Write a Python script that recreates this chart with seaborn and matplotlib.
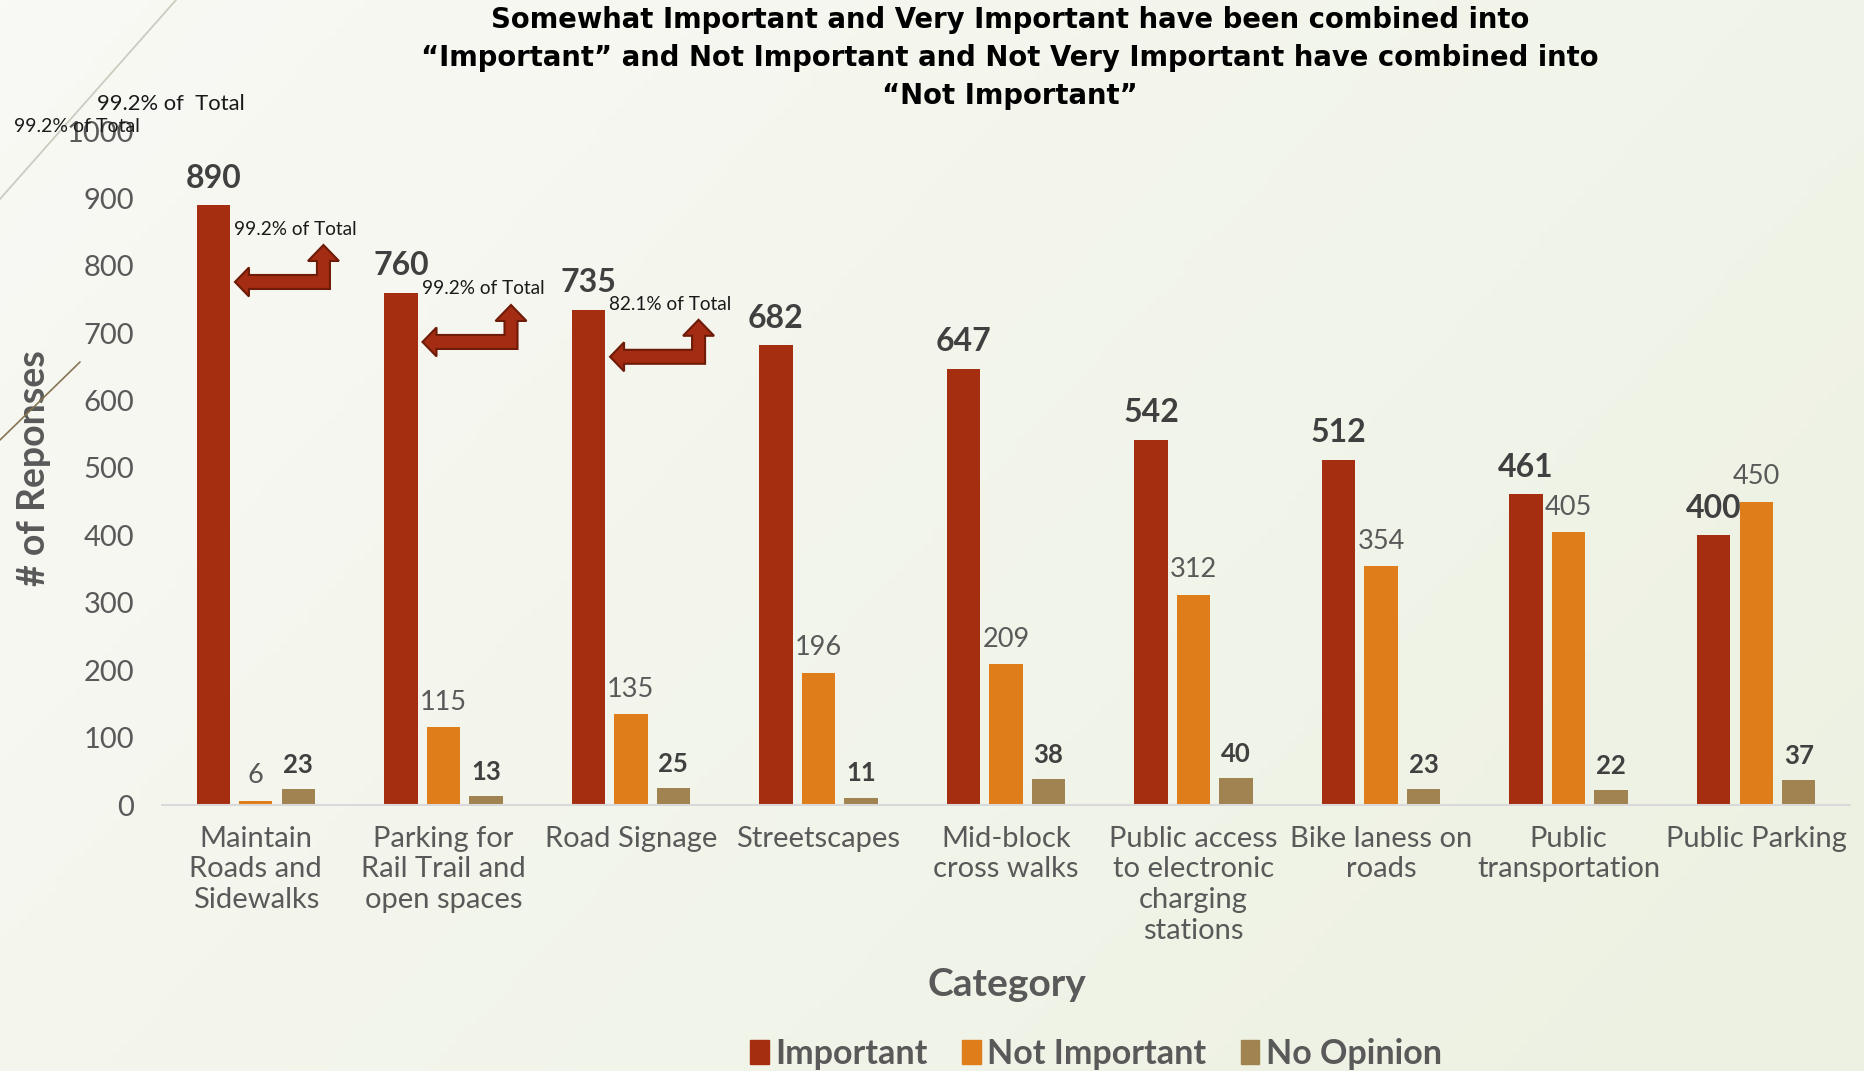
import numpy as np
import pandas as pd
import matplotlib
matplotlib.use("Agg")
import matplotlib.pyplot as plt
import matplotlib.transforms as mtransforms
from matplotlib.patches import Polygon
from matplotlib.lines import Line2D
import seaborn as sns

# values
CATEGORIES = [
    "Maintain\nRoads and\nSidewalks",
    "Parking for\nRail Trail and\nopen spaces",
    "Road Signage",
    "Streetscapes",
    "Mid-block\ncross walks",
    "Public access\nto electronic\ncharging\nstations",
    "Bike laness on\nroads",
    "Public\ntransportation",
    "Public Parking",
]
IMPORTANT = [890, 760, 735, 682, 647, 542, 512, 461, 400]
NOT_IMPORTANT = [6, 115, 135, 196, 209, 312, 354, 405, 450]
NO_OPINION = [23, 13, 25, 11, 38, 40, 23, 22, 37]
SERIES = ["Important", "Not Important", "No Opinion"]
PCT_NOTES = ["99.2% of Total", "99.2% of Total", "82.1% of Total"]

TITLE = ("Somewhat Important and Very Important have been combined into\n"
         "\u201cImportant\u201d and Not Important and Not Very Important have combined into\n"
         "\u201cNot Important\u201d")

COLORS = {"Important": "#A52D10", "Not Important": "#DE7D1A", "No Opinion": "#A08350"}
GRAY = "#595959"
DARK = "#404040"

df = pd.DataFrame({"Category": CATEGORIES, "Important": IMPORTANT,
                   "Not Important": NOT_IMPORTANT, "No Opinion": NO_OPINION})
long_df = df.melt(id_vars="Category", var_name="Response", value_name="Responses")

sns.set_style("white")
plt.rcParams["font.family"] = ["Lato", "DejaVu Sans"]

W, H = 1865, 1071
fig = plt.figure(figsize=(W / 100, H / 100), dpi=100)

# soft slide background gradient
bg = fig.add_axes([0, 0, 1, 1], zorder=-10)
gx, gy = np.meshgrid(np.linspace(0, 1, 200), np.linspace(0, 1, 120))
t = np.clip(0.65 * gx + 0.35 * gy, 0, 1)
c0 = np.array([249, 249, 245]) / 255
c1 = np.array([236, 241, 225]) / 255
img = c0[None, None, :] * (1 - t[..., None]) + c1[None, None, :] * t[..., None]
bg.imshow(img, aspect="auto", extent=[0, 1, 0, 1], origin="upper")
bg.axis("off")

ax = fig.add_axes([162 / W, 266 / H, 1688 / W, 674 / H])
ax.set_facecolor("none")

sns.barplot(data=long_df, x="Category", y="Responses", hue="Response",
            hue_order=SERIES, palette=COLORS, width=0.68, gap=0.215,
            saturation=1, errorbar=None, linewidth=0, legend=False, ax=ax)

ax.set_ylim(0, 1000)
ax.set_xlim(-0.5, len(CATEGORIES) - 0.5)
ax.set_yticks(np.arange(0, 1001, 100))
ax.tick_params(axis="y", length=0, pad=20, labelsize=21, labelcolor=GRAY)
ax.tick_params(axis="x", length=0, pad=15, labelsize=21, labelcolor=GRAY)
for lab in ax.get_xticklabels():
    lab.set_linespacing(1.22)
for side in ["top", "right", "left"]:
    ax.spines[side].set_visible(False)
ax.spines["bottom"].set_color("#D9D9D9")
ax.spines["bottom"].set_linewidth(1.5)

ax.set_ylabel("# of Reponses", fontsize=27, fontweight="bold", color=GRAY)
ax.yaxis.set_label_coords(-0.066, 0.5)
ax.set_xlabel("Category", fontsize=28, fontweight="bold", color=GRAY)
ax.xaxis.set_label_coords(0.5006, -0.24)

# value labels
label_styles = {
    "Important": dict(fontsize=23, fontweight="bold", color=DARK),
    "Not Important": dict(fontsize=19.5, color=GRAY),
    "No Opinion": dict(fontsize=18.5, fontweight="bold", color=DARK),
}
for container, name in zip(ax.containers, SERIES):
    ax.bar_label(container, padding=9, **label_styles[name])

# bent arrows + "% of Total" notes on first three bars
arrow_px = np.array([
    (5, 0), (19, 14.5), (19, 7), (87, 7), (87, 21), (78, 21), (93.5, 37),
    (109, 21), (100, 21), (100, -7), (19, -7), (19, -14.5),
]) / 100.0
note_offsets = [(-114, -36), (-73, 7), (-70, 7)]
for i, (note, (arrow_dy, text_dy)) in enumerate(zip(PCT_NOTES, note_offsets)):
    bar = ax.containers[0][i]
    x_right = bar.get_x() + bar.get_width()
    v = bar.get_height()
    trans = fig.dpi_scale_trans + mtransforms.ScaledTranslation(x_right, v + arrow_dy, ax.transData)
    ax.add_patch(Polygon(arrow_px, closed=True, transform=trans, facecolor="#A32C12",
                         edgecolor="#6E1B08", linewidth=1.5, zorder=5))
    ax.annotate(note, xy=(x_right, v + text_dy), xytext=(3, 0), textcoords="offset points",
                ha="left", va="center", fontsize=13.7, color="#1A1A1A")

# legend
handles = [plt.Rectangle((0, 0), 1, 1, color=COLORS[s]) for s in SERIES]
leg = fig.legend(handles, SERIES, loc="center", bbox_to_anchor=(1096 / W, 1 - 1054 / H),
                 ncol=3, frameon=False, handlelength=0.55, handleheight=0.7,
                 handletextpad=0.2, columnspacing=1.0,
                 prop={"size": 24.5, "weight": "bold"})
for txt in leg.get_texts():
    txt.set_color(GRAY)

# title
fig.text(1010 / W, 1 - 58 / H, TITLE, ha="center", va="center", multialignment="center",
         fontsize=19.8, fontweight="bold", color="black", linespacing=1.45,
         family=["DejaVu Sans"])

# stray slide text and decorative lines in the top-left corner
fig.text(97 / W, 1 - 103.5 / H, "99.2% of  Total", ha="left", va="center",
         fontsize=15.8, color="#1A1A1A")
fig.text(14 / W, 1 - 126 / H, "99.2% of Total", ha="left", va="center",
         fontsize=14, color="#1A1A1A")
fig.add_artist(Line2D([0, 176 / W], [1 - 199 / H, 1], transform=fig.transFigure,
                      color="#C9CDBE", linewidth=1.3))
fig.add_artist(Line2D([0, 80 / W], [1 - 440 / H, 1 - 362 / H], transform=fig.transFigure,
                      color="#857552", linewidth=1.2))

fig.savefig("out.png", dpi=100)
